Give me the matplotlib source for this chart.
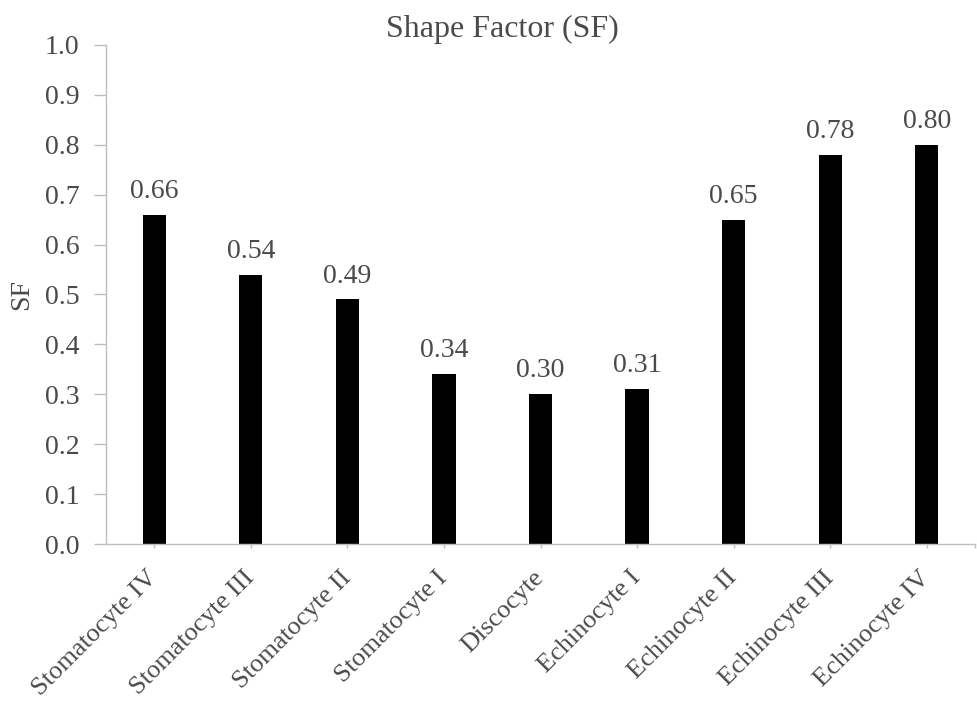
import matplotlib
matplotlib.use("Agg")
import matplotlib.pyplot as plt
import numpy as np

# categories and shape factor values
cells = ["Stomatocyte IV", "Stomatocyte III", "Stomatocyte II", "Stomatocyte I",
         "Discocyte", "Echinocyte I", "Echinocyte II", "Echinocyte III", "Echinocyte IV"]
sf_values = [0.66, 0.54, 0.49, 0.34, 0.30, 0.31, 0.65, 0.78, 0.80]
yticks = [0.0, 0.1, 0.2, 0.3, 0.4, 0.5, 0.6, 0.7, 0.8, 0.9, 1.0]

plt.rcParams['font.family'] = ['Liberation Serif', 'DejaVu Serif']
txt = '#4a4a4a'
grey = '#BFBFBF'

fig = plt.figure(figsize=(9.77, 7.02), dpi=100)
ax = fig.add_axes([0.1085, 0.225, 0.8895, 0.711])

x = np.arange(len(cells))
ax.bar(x, sf_values, width=0.24, color='black')

# value labels above bars
for xi, v in zip(x, sf_values):
    ax.text(xi, v + 0.034, f"{v:.2f}", ha='center', va='baseline', fontsize=20, color=txt)

ax.set_xlim(-0.5, len(cells) - 0.5)
ax.set_ylim(0, 1.0)
ax.set_yticks(yticks)
ax.set_yticklabels([f"{t:.1f}" for t in yticks], fontsize=20, color=txt)
ax.set_xticks(x)
ax.set_xticklabels(cells, rotation=45, ha='right', va='center', rotation_mode='anchor',
                   fontsize=19, color=txt)
ax.set_xticks([len(cells) - 0.5], minor=True)

fig.text(0.0225, 0.5805, "SF", rotation=90, ha='center', va='center', fontsize=20, color=txt)
fig.text(0.514, 0.947, "Shape Factor (SF)", ha='center', va='baseline', fontsize=23, color=txt)

for s in ['top', 'right']:
    ax.spines[s].set_visible(False)
for s in ['left', 'bottom']:
    ax.spines[s].set_color(grey)
    ax.spines[s].set_linewidth(1)
ax.tick_params(axis='y', direction='out', length=9, color=grey, width=1, pad=10)
ax.tick_params(axis='x', which='both', direction='out', length=3, color=grey, width=1, pad=19)

fig.savefig("out.png", dpi=100)
